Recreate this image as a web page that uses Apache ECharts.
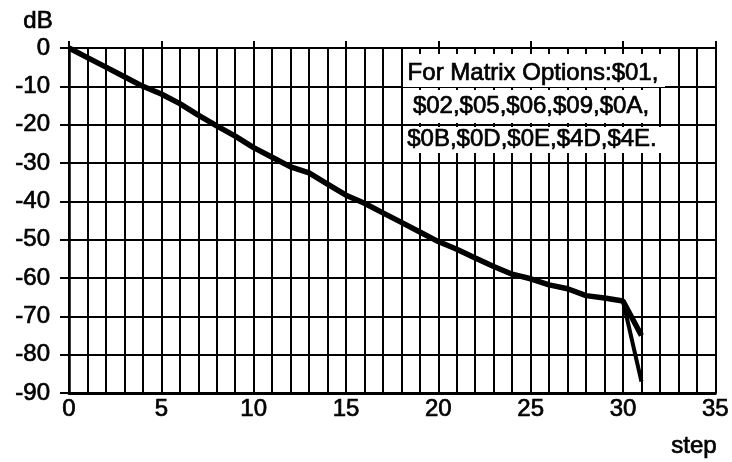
<!DOCTYPE html>
<html><head><meta charset="utf-8">
<script src="https://cdn.jsdelivr.net/npm/echarts@6/dist/echarts.min.js"></script>
<style>html,body{margin:0;padding:0;background:#fff}#c{width:732px;height:462px}</style>
</head><body><div id="c"></div>
<script>
const steps = [0,1,2,3,4,5,6,7,8,9,10,11,12,13,14,15,16,17,18,19,20,21,22,23,24,25,26,27,28,29,30,31];
const mainDb = [0,-2.5,-5,-7.5,-10,-12,-14.5,-17.5,-20.3,-23,-26,-28.5,-31,-32.6,-35.5,-38.4,-40.5,-43,-45.5,-48,-50.5,-52.5,-54.8,-57,-59,-60.2,-61.8,-62.8,-64.6,-65.2,-66,-75];
const branchSteps = [30,31];
const branchDb = [-66,-87];
const xLabels = [0,5,10,15,20,25,30,35];
const yLabels = [0,-10,-20,-30,-40,-50,-60,-70,-80,-90];
const noteLines = ["For Matrix Options:$01,", "$02,$05,$06,$09,$0A,", "$0B,$0D,$0E,$4D,$4E."];
const yName = "dB";
const xName = "step";

const FONT = 'Liberation Sans';
const TFONT = '24px "Liberation Sans"';
const chart = echarts.init(document.getElementById('c'), null, {renderer:'canvas'});
const black = '#000';
const txt = (t, x, y) => ({type:'text',z:21,x:x,y:y,style:{text:t,font:TFONT,fill:black,stroke:black,lineWidth:0.7,align:'center',verticalAlign:'middle'}});
const option = {
  animation:false,
  backgroundColor:'#fff',
  grid:{left:69,right:16,top:48,bottom:69},
  xAxis:[{
    type:'value',min:0,max:35,interval:1,
    axisLine:{show:true,onZero:false,lineStyle:{color:black,width:3}},
    axisTick:{show:false},
    splitLine:{show:true,lineStyle:{color:black,width:2}},
    axisLabel:{margin:4,color:black,fontFamily:FONT,fontSize:24,textBorderColor:black,textBorderWidth:0.7,
      formatter:v=>xLabels.includes(v)?String(v):''}
  },{
    type:'value',position:'top',min:0,max:35,interval:5,
    axisLine:{show:true,onZero:false,lineStyle:{color:black,width:2}},
    axisTick:{show:true,length:7,lineStyle:{color:black,width:2}},
    axisLabel:{show:false},splitLine:{show:false}
  }],
  yAxis:{
    type:'value',min:-90,max:0,interval:10,
    axisLine:{show:true,onZero:false,lineStyle:{color:black,width:2.5}},
    axisTick:{show:true,length:9,lineStyle:{color:black,width:2}},
    splitLine:{show:true,lineStyle:{color:black,width:2}},
    axisLabel:{margin:19,color:black,fontFamily:FONT,fontSize:24,textBorderColor:black,textBorderWidth:0.7,
      formatter:v=>yLabels.includes(v)?String(v):''}
  },
  graphic:[
    txt(yName, 38, 21),
    txt(xName, 694, 446),
    {type:'rect',z:20,shape:{x:403,y:54,width:262,height:33},style:{fill:'#fff'}},
    {type:'rect',z:20,shape:{x:403,y:90,width:254,height:33},style:{fill:'#fff'}},
    {type:'rect',z:20,shape:{x:403,y:127,width:262,height:26},style:{fill:'#fff'}},
    txt(noteLines[0], 533, 73),
    txt(noteLines[1], 531, 106),
    txt(noteLines[2], 532, 139)
  ],
  series:[
    {type:'line',xAxisIndex:0,data:steps.map((s,i)=>[s,mainDb[i]]),showSymbol:false,
      lineStyle:{color:black,width:5.5},z:5},
    {type:'line',xAxisIndex:0,data:branchSteps.map((s,i)=>[s,branchDb[i]]),showSymbol:false,
      lineStyle:{color:black,width:4},z:5}
  ]
};
chart.setOption(option);
</script></body></html>
